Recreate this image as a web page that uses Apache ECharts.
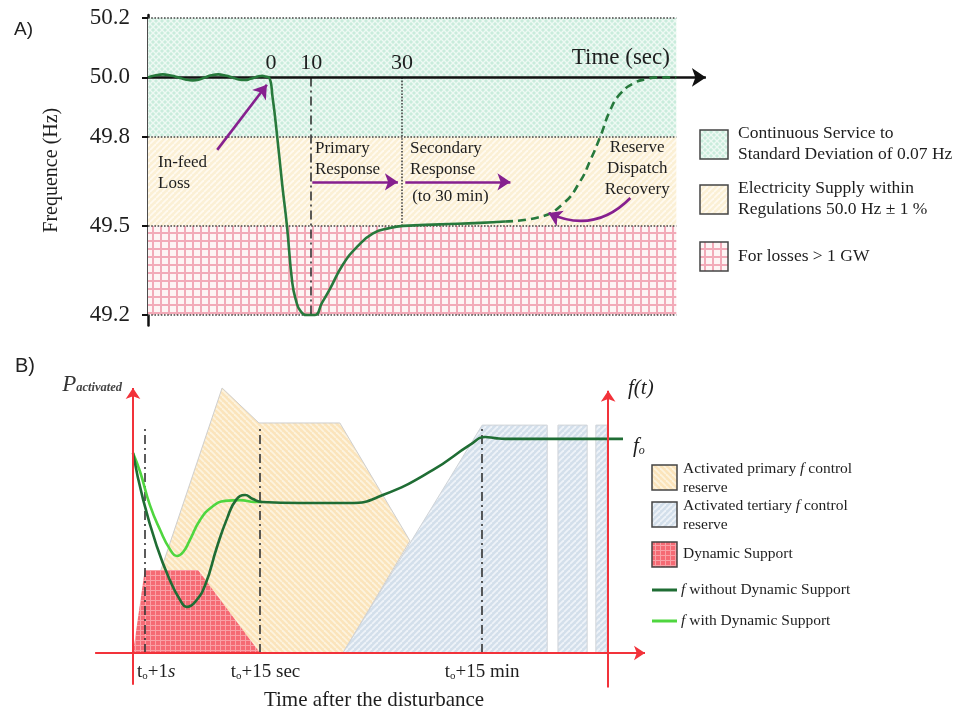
<!DOCTYPE html>
<html><head><meta charset="utf-8">
<script src="https://cdn.jsdelivr.net/npm/echarts@6/dist/echarts.min.js"></script>
<style>html,body{margin:0;padding:0;background:#fff}#main{width:962px;height:720px}</style>
</head><body><div id="main"></div>
<script>
// ---------------- DATA: Panel A (schematic time units 0..100, frequency in Hz) ----------------
const yTicksA = [49.2, 49.5, 49.8, 50.0, 50.2];
const timeTickPosA = [23.3, 30.9, 48.1];
const timeTickLabelsA = ['0', '10', '30'];
const bandLimitsA = [[49.8, 50.2], [49.5, 49.8], [49.2, 49.5]];
const bandNamesA = ['Continuous Service to\nStandard Deviation of 0.07 Hz', 'Electricity Supply within\nRegulations 50.0 Hz ± 1 %', 'For losses > 1 GW'];
const freqSolidA = [[0,50.0],[1.3,50.006],[2.8,50.01],[4.3,50.006],[5.7,50.0],[7.1,49.993],[8.5,49.99],[9.7,49.993],[10.8,50.0],[12.0,50.007],[13.3,50.01],[14.6,50.006],[15.9,50.0],[17.2,49.993],[18.4,49.991],[19.4,49.995],[20.3,50.0],[21.0,50.004],[21.6,50.005],[22.2,50.003],[22.9,50.0],[23.6,49.93],[24.4,49.81],[25.4,49.64],[26.3,49.5],[27.3,49.31],[28.0,49.25],[28.8,49.215],[30.1,49.2],[31.6,49.2],[32.9,49.24],[34.5,49.29],[36.9,49.37],[39.6,49.43],[42.6,49.475],[45.8,49.493],[48.3,49.5],[55.3,49.505],[62.9,49.51],[67.6,49.515]];
const freqDashedA = [[67.6,49.515],[74.2,49.53],[78.6,49.575],[81.8,49.65],[83.7,49.72],[85.6,49.8],[87.5,49.89],[89.4,49.945],[91.9,49.98],[94.5,49.995],[96.4,50.0],[100,50.0]];
const primaryDividerA = 30.9;   // "10" dash-dot line
const secondaryDividerA = 48.1; // "30" dotted line
const notesA = [
  {text:'In-feed\nLoss', x:1.9, y:49.747, align:'left'},
  {text:'Primary\nResponse', x:31.6, y:49.796, align:'left'},
  {text:'Secondary\nResponse', x:49.6, y:49.796, align:'left'},
  {text:'(to 30 min)', x:50.0, y:49.633, align:'left'},
  {text:'Reserve\nDispatch\nRecovery', x:92.6, y:49.799, align:'center'}
];
const arrowsA = [
  [[13.1,49.756],[22.5,49.975]],
  [[31.1,49.648],[47.3,49.648]],
  [[48.7,49.648],[68.6,49.648]]
];
const curvedArrowA = [[91.3,49.594],[75.8,49.543]];

// ---------------- DATA: Panel B (schematic units) ----------------
const primaryReserveB = [[0,0],[17.4,100],[24.6,86.8],[40.4,86.8],[54.1,42.3],[41,0]];
const tertiaryReserveB = [
  [[41,0],[68.2,86],[80.9,86],[80.9,0]],
  [[83,0],[83,86],[88.7,86],[88.7,0]],
  [[90.4,0],[90.4,86],[92.6,86],[92.6,0]]
];
const dynamicSupportB = [[0,0],[2.3,31.3],[12.7,31.3],[24.8,0]];
const fWithoutB = [[0,75.5],[2,57.7],[4.7,40],[7.2,27.5],[9.2,20],[10.5,17.4],[12.1,19.2],[14.1,25.7],[16.4,40],[18.4,50.9],[20.1,57.7],[21.9,59.6],[23.4,58.1],[25.2,57],[32.6,56.6],[42.4,56.6],[48.8,59.6],[58.6,69.1],[65.8,78.5],[68.8,81.5],[70.7,81.1],[72.7,80.8],[95.7,80.8]];
const fWithB = [[0,75.5],[1.4,68.3],[3.3,55.8],[5.3,46.4],[7.2,39.2],[8.6,36.6],[9.8,38.1],[11.1,42.6],[13.1,50.2],[15.4,55.1],[18,57.4],[20.9,57.7],[23.8,57],[25.2,57]];
const markersB = [2.3, 24.8, 68.2];
const markerTopB = 86;
const rightAxisB = 92.8;
const tickLabelsB = [{x:0.8, label:'+1', unit:'s'}, {x:19.1, label:'+15 sec', unit:''}, {x:60.9, label:'+15 min', unit:''}];

// ---------------- STYLE HELPERS ----------------
const SERIF = '"Liberation Serif","Times New Roman",serif';
const SANS = '"Liberation Sans",Arial,sans-serif';
const TXT = '#1e1e1e';
function pat(s, bg, draw){
  const c = document.createElement('canvas'); c.width = s; c.height = s;
  const g = c.getContext('2d'); g.fillStyle = bg; g.fillRect(0,0,s,s); draw(g,s);
  return {image:c, repeat:'repeat'};
}
function diag(g, s, dir, col, lw){
  g.strokeStyle = col; g.lineWidth = lw;
  for (let k=-1;k<=1;k++){ g.beginPath();
    if (dir>0){ g.moveTo(k*s, s); g.lineTo(k*s+s, 0); } else { g.moveTo(k*s, 0); g.lineTo(k*s+s, s); }
    g.stroke(); }
}
function gridPat(g, s, col, lw){ g.fillStyle = col; g.fillRect(0,0,s,lw); g.fillRect(0,0,lw,s); }
const fillGreenA = pat(6, '#c9ecdc', (g,s)=>{diag(g,s,1,'#eef9f3',1.3);diag(g,s,-1,'#eef9f3',1.3);});
const fillBeigeA = pat(6, '#fbf0d5', (g,s)=>diag(g,s,1,'#fffaf0',1.8));
const fillRedA = pat(8, '#fdf4f4', (g,s)=>gridPat(g,s,'#f2aab8',2));
const fillBeigeB = pat(6, '#fbe4bb', (g,s)=>diag(g,s,-1,'#fdf3de',1.8));
const fillBlueB = pat(6, '#d3dfeb', (g,s)=>diag(g,s,1,'#eef3f8',1.8));
const fillRedB = pat(5, '#f56a74', (g,s)=>gridPat(g,s,'#f9a0a6',1));
const bandFillsA = [fillGreenA, fillBeigeA, fillRedA];

function polySeries(pts, fill, stroke, gi, z){
  return {type:'custom', xAxisIndex:gi, yAxisIndex:gi, z:z, silent:true, data:[[0,0]],
    renderItem:(p, api)=>({type:'polygon', shape:{points: pts.map(q=>api.coord(q))},
      style:{fill:fill, stroke:stroke||null, lineWidth:1}})};
}
function segSeries(segs, color, width, type, gi, arrow, z, curveness, asize){
  return {type:'lines', coordinateSystem:'cartesian2d', xAxisIndex:gi, yAxisIndex:gi, z:z, silent:true,
    symbol: arrow ? ['none','arrow'] : ['none','none'], symbolSize: asize || 12,
    lineStyle:{color:color, width:width, type:type, opacity:1, curveness:curveness||0},
    data: segs.map(s=>({coords:s}))};
}
function noteSeries(notes, gi, fontSize, lh){
  return {type:'scatter', xAxisIndex:gi, yAxisIndex:gi, z:8, silent:true, clip:false, symbolSize:0,
    itemStyle:{color:'#000', opacity:1},
    data: notes.map(n=>({value:[n.x,n.y], label:{show:true, position:[0,0], formatter:n.text,
      align:n.align||'left', verticalAlign:n.va||'top', fontFamily:SERIF, fontSize:n.size||fontSize,
      lineHeight:n.lh||lh, color:TXT, opacity:1, textBorderWidth:0, rich:n.rich}}))};
}
function curveSeries(data, gi, color, z, dashed){
  return {type:'line', xAxisIndex:gi, yAxisIndex:gi, z:z, data:data, showSymbol:false, smooth:0.5,
    lineStyle:{color:color, width:2.6, type: dashed ? [8,5] : 'solid'}, silent:true};
}

// ---------------- SERIES ----------------
const series = [];
bandLimitsA.forEach((b,i)=>series.push(polySeries([[0,b[0]],[0,b[1]],[100,b[1]],[100,b[0]]], bandFillsA[i], null, 0, 1)));
series.push(segSeries([50.2,49.8,49.5,49.2].map(v=>[[0,v],[100,v]]), '#444', 1.6, 'dotted', 0, false, 2));
series.push(segSeries([[[primaryDividerA,50.0],[primaryDividerA,49.2]]], '#333', 1.6, [9,4,2,4], 0, false, 2));
series.push(segSeries([[[secondaryDividerA,50.0],[secondaryDividerA,49.5]]], '#444', 1.6, 'dotted', 0, false, 2));
series.push(segSeries([[[0,50.0],[105.6,50.0]]], '#111', 2.5, 'solid', 0, true, 3, 0, 14));
series.push(curveSeries(freqSolidA, 0, '#27793c', 5, false));
series.push(curveSeries(freqDashedA, 0, '#27793c', 5, true));
series.push(segSeries(arrowsA, '#86208f', 2.6, 'solid', 0, true, 6, 0, 13));
series.push(segSeries([curvedArrowA], '#86208f', 2.6, 'solid', 0, true, 6, 0.35, 13));
series.push(noteSeries(timeTickPosA.map((x,i)=>({text:timeTickLabelsA[i], x:x, y:50.048, align:'center', va:'middle', size:22})), 0, 22, 24));
series.push(noteSeries([{text:'Time (sec)', x:89.5, y:50.066, align:'center', va:'middle', size:23}], 0, 23, 26));
series.push(noteSeries(notesA, 0, 17, 21));

series.push(polySeries(primaryReserveB, fillBeigeB, '#cfcfcf', 1, 1));
tertiaryReserveB.forEach(p=>series.push(polySeries(p, fillBlueB, '#d0d4d8', 1, 1)));
series.push(polySeries(dynamicSupportB, fillRedB, null, 1, 2));
series.push(segSeries(markersB.map(x=>[[x,0],[x,markerTopB]]), '#333', 1.6, [9,4,2,4], 1, false, 3));
series.push(curveSeries(fWithB, 1, '#4fd63f', 5, false));
series.push(curveSeries(fWithoutB, 1, '#1f6d34', 6, false));
series.push(segSeries([[[0,-12],[0,100]],[[-7.4,0],[100,0]],[[rightAxisB,-13],[rightAxisB,99]]], '#f2323a', 2, 'solid', 1, true, 7, 0, 11));
const richB = {n:{fontFamily:SERIF, fontSize:19, color:TXT}, s:{fontFamily:SERIF, fontSize:11, color:TXT, padding:[8,0,0,0]}, i:{fontFamily:SERIF, fontStyle:'italic', fontSize:19, color:TXT}};
series.push(noteSeries(tickLabelsB.map(t=>({text:'{n|t}{s|o}{n|' + t.label + '}' + (t.unit ? '{i|' + t.unit + '}' : ''),
  x:t.x, y:-7.2, align:'left', va:'middle', rich:richB})), 1, 19, 22));

// ---------------- GRAPHIC (legends, axis titles) ----------------
const g = [];
g.push({type:'text', left:14, top:20, style:{text:'A)', font:'19px '+SANS, fill:'#222'}});
g.push({type:'text', left:15, top:356, style:{text:'B)', font:'20px '+SANS, fill:'#222'}});
[130,185,242].forEach((y,i)=>{
  g.push({type:'rect', shape:{x:700, y:y, width:28, height:29}, style:{fill:bandFillsA[i], stroke:'#444', lineWidth:1.5}});
  g.push({type:'text', x:738, y: i===2 ? y+4 : y-7, style:{text:bandNamesA[i], font:'17.5px '+SERIF, lineHeight:21, fill:TXT, verticalAlign:'top'}});
});
g.push({type:'text', x:374, y:700, style:{text:'Time after the disturbance', font:'21px '+SERIF, fill:TXT, align:'center', verticalAlign:'middle'}});
g.push({type:'text', x:122, y:385, style:{text:'{P|P}{s|activated}', align:'right', verticalAlign:'middle',
  rich:{P:{font:'italic 23px '+SERIF, fill:'#333'}, s:{font:'italic bold 12.5px '+SERIF, fill:'#444', padding:[6,0,0,0]}}}});
g.push({type:'text', x:628, y:388, style:{text:'f(t)', font:'italic 21px '+SERIF, fill:TXT, verticalAlign:'middle'}});
g.push({type:'text', x:633, y:446, style:{text:'{f|f}{o|o}', verticalAlign:'middle',
  rich:{f:{font:'italic 21px '+SERIF, fill:TXT}, o:{font:'italic 12px '+SERIF, fill:TXT, padding:[9,0,0,0]}}}});
const legFillsB = [fillBeigeB, fillBlueB, fillRedB];
const legTextB = ['{n|Activated primary }{i|f}{n| control}\n{n|reserve}', '{n|Activated tertiary }{i|f}{n| control}\n{n|reserve}', '{n|Dynamic Support}'];
const legRich = {n:{font:'15.5px '+SERIF, fill:TXT, lineHeight:19}, i:{font:'italic 15.5px '+SERIF, fill:TXT, lineHeight:19}};
[465,502,542].forEach((y,i)=>{
  g.push({type:'rect', shape:{x:652, y:y, width:25, height:25}, style:{fill:legFillsB[i], stroke:'#444', lineWidth:1.5}});
  g.push({type:'text', x:683, y: i===2 ? y+12 : y-6, style:{text:legTextB[i], rich:legRich, verticalAlign: i===2?'middle':'top'}});
});
g.push({type:'line', shape:{x1:652, y1:590, x2:677, y2:590}, style:{stroke:'#1f6d34', lineWidth:3}});
g.push({type:'line', shape:{x1:652, y1:621, x2:677, y2:621}, style:{stroke:'#4fd63f', lineWidth:3}});
g.push({type:'text', x:681, y:590, style:{text:'{i|f}{n| without Dynamic Support}', rich:legRich, verticalAlign:'middle'}});
g.push({type:'text', x:681, y:621, style:{text:'{i|f}{n| with Dynamic Support}', rich:legRich, verticalAlign:'middle'}});

// ---------------- OPTION ----------------
const chart = echarts.init(document.getElementById('main'), null, {renderer:'canvas'});
chart.setOption({
  backgroundColor:'#fff',
  animation:false,
  grid:[
    {left:148, top:15, width:560, height:310.4, containLabel:false, outerBoundsMode:'none'},
    {left:92.04, top:388, width:552.96, height:299.45, containLabel:false, outerBoundsMode:'none'}
  ],
  xAxis:[
    {type:'value', gridIndex:0, min:0, max:106, show:false},
    {type:'value', gridIndex:1, min:-8, max:100, show:false}
  ],
  yAxis:[
    {type:'value', gridIndex:0, min:49.165, max:50.21,
      axisLine:{show:true, lineStyle:{color:'#111', width:2.5}},
      axisTick:{show:true, customValues:yTicksA, length:6, lineStyle:{color:'#111', width:2}},
      axisLabel:{show:true, customValues:yTicksA, formatter:v=>Number(v).toFixed(1), fontFamily:SERIF, fontSize:23, color:TXT, margin:18},
      splitLine:{show:false},
      name:'Frequence (Hz)', nameLocation:'middle', nameGap:86, nameTextStyle:{fontFamily:SERIF, fontSize:20, color:TXT}},
    {type:'value', gridIndex:1, min:-13, max:100, show:false}
  ],
  graphic:g,
  series:series
});
</script></body></html>
